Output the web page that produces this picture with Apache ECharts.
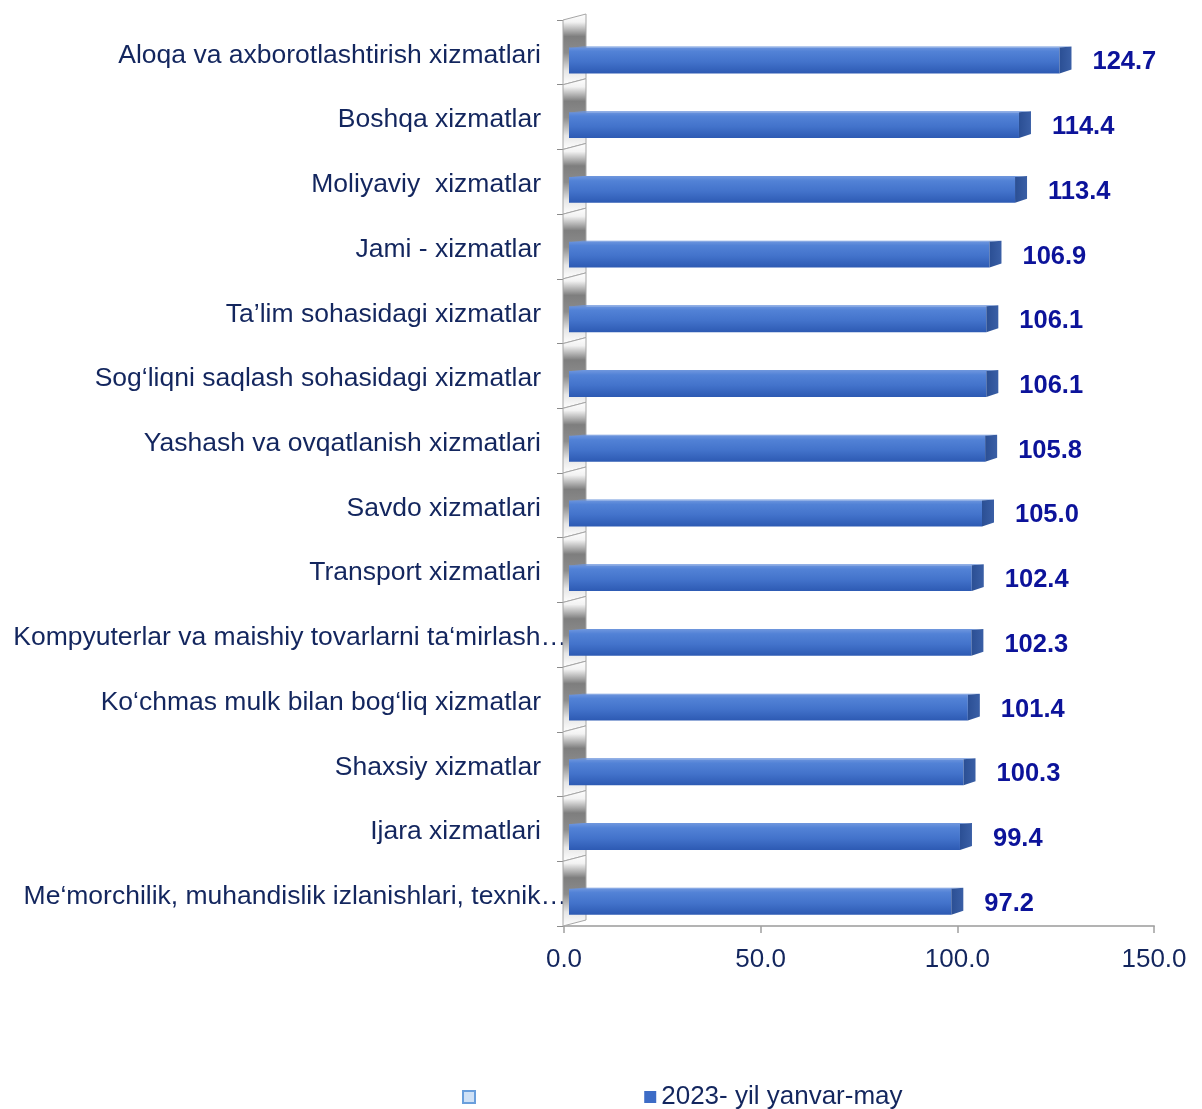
<!DOCTYPE html>
<html><head><meta charset="utf-8">
<script src="https://cdn.jsdelivr.net/npm/echarts@6/dist/echarts.min.js"></script>
<style>html,body{margin:0;padding:0;background:#fff}#c{width:1202px;height:1109px}</style>
</head><body><div id="c"></div>
<script>
const categories = [
  "Aloqa va axborotlashtirish xizmatlari",
  "Boshqa xizmatlar",
  "Moliyaviy  xizmatlar",
  "Jami - xizmatlar",
  "Ta’lim sohasidagi xizmatlar",
  "Sog‘liqni saqlash sohasidagi xizmatlar",
  "Yashash va ovqatlanish xizmatlari",
  "Savdo xizmatlari",
  "Transport xizmatlari",
  "Kompyuterlar va maishiy tovarlarni ta‘mirlash xizmatlari",
  "Ko‘chmas mulk bilan bog‘liq xizmatlar",
  "Shaxsiy xizmatlar",
  "Ijara xizmatlari",
  "Me‘morchilik, muhandislik izlanishlari, texnik sinov va tahlil sohasidagi xizmatlar"
];
const values = [124.7, 114.4, 113.4, 106.9, 106.1, 106.1, 105.8, 105.0, 102.4, 102.3, 101.4, 100.3, 99.4, 97.2];
const seriesName = "2023- yil yanvar-may";
const emptySeriesName = " ";
const axisMin = 0, axisMax = 150, axisStep = 50;

const FONT = "'Liberation Sans', Arial, sans-serif";
const FS = 26.5;
const LABEL_FONT = FS + 'px ' + FONT;
const NAVY = '#13265e';
const chart = echarts.init(document.getElementById('c'), null, {renderer: 'canvas'});
const data = values.map((v, i) => [v, i]);

function wallItem(params, api) {
  const o = api.coord([0, api.value(1)]);
  const band = api.size([0, 1])[1];
  const yt = o[1] - band / 2, yb = o[1] + band / 2;
  const x0 = o[0] - 1, w = 23, sl = 6;
  return {
    type: 'polygon',
    shape: {points: [[x0, yt], [x0 + w, yt - sl], [x0 + w, yb - sl], [x0, yb]]},
    style: {
      fill: new echarts.graphic.LinearGradient(0, 0, 0, 1, [
        {offset: 0, color: '#ffffff'},
        {offset: 0.12, color: '#f2f2f2'},
        {offset: 0.32, color: '#7e7e7e'},
        {offset: 0.55, color: '#8c8c8c'},
        {offset: 0.8, color: '#e6e6e6'},
        {offset: 1, color: '#ffffff'}
      ]),
      stroke: '#a6a6a6', lineWidth: 1
    }
  };
}

function barItem(params, api) {
  const v = api.value(0), cat = api.value(1);
  const e = api.coord([v, cat]);
  const o = api.coord([0, cat]);
  const band = api.size([0, 1])[1];
  const cy = e[1] + band * 0.125;
  const h = band * 0.4;
  const y0 = cy - h / 2, y1 = cy + h / 2;
  const xs = o[0] + 5, xe = e[0] + 5;
  const dw = 12, dh = 4;
  return {
    type: 'group',
    children: [
      {type: 'polygon', shape: {points: [[xs + 2, y0], [xe, y0], [xe + dw, y0 - 1], [xs + 2 + dw, y0 - 1]]},
       style: {fill: '#6d95dc'}},
      {type: 'rect', shape: {x: xs, y: y0, width: xe - xs, height: h},
       style: {fill: new echarts.graphic.LinearGradient(0, 0, 0, 1, [
         {offset: 0, color: '#6a93dd'},
         {offset: 0.15, color: '#5282d6'},
         {offset: 0.55, color: '#4373cb'},
         {offset: 1, color: '#2d5ab3'}
       ])}},
      {type: 'polygon', shape: {points: [[xe, y0], [xe + dw, y0 - 1], [xe + dw, y1 - dh], [xe, y1]]},
       style: {fill: new echarts.graphic.LinearGradient(0, 0, 1, 0, [
         {offset: 0, color: '#2b4f94'},
         {offset: 1, color: '#3a5fa6'}
       ])}},
      {type: 'text', x: xe + 33, y: cy + 2,
       style: {text: v.toFixed(1), fill: '#0c139a', font: 'bold 25.5px ' + FONT,
               textAlign: 'left', textVerticalAlign: 'middle'}}
    ]
  };
}

const measureCtx = document.createElement('canvas').getContext('2d');
measureCtx.font = LABEL_FONT;
function catLabel(label) {
  const maxW = 560;
  if (measureCtx.measureText(label).width <= maxW) return '{n|' + label + '}';
  let t = label;
  while (t.length > 1 && measureCtx.measureText(t + '…').width > maxW) t = t.slice(0, -1);
  return '{l|' + t.trimEnd() + '…}';
}

chart.setOption({
  animation: false,
  backgroundColor: '#ffffff',
  grid: {left: 564, right: 48, top: 20, bottom: 183, containLabel: false},
  xAxis: {
    type: 'value', min: axisMin, max: axisMax, interval: axisStep,
    axisLine: {show: true, lineStyle: {color: '#b3b3b3', width: 2}},
    axisTick: {show: true, length: 7, lineStyle: {color: '#a0a0a0', width: 1.5}},
    splitLine: {show: false},
    axisLabel: {formatter: v => v.toFixed(1), color: NAVY, fontSize: 26, fontFamily: FONT, margin: 21}
  },
  yAxis: {
    type: 'category', data: categories, inverse: true,
    axisLine: {show: true, lineStyle: {color: '#a6a6a6', width: 1}},
    axisTick: {show: true, length: 7, lineStyle: {color: '#8c8c8c'}},
    axisLabel: {
      color: NAVY, fontSize: FS, fontFamily: FONT, margin: -3,
      formatter: catLabel,
      rich: {
        n: {color: NAVY, fontSize: FS, fontFamily: FONT, padding: [6, 26, 0, 0]},
        l: {color: NAVY, fontSize: FS, fontFamily: FONT, padding: [6, 0, 0, 0]}
      }
    }
  },
  legend: {
    left: 457, top: 1079, itemWidth: 12, itemHeight: 12, itemGap: 157,
    textStyle: {color: NAVY, fontSize: 26, fontFamily: FONT},
    data: [
      {name: emptySeriesName, icon: 'rect', itemStyle: {color: '#cfe1f6', borderColor: '#6a9fdc', borderWidth: 2}},
      {name: seriesName, icon: 'rect', itemStyle: {color: '#3d6cc6'}}
    ]
  },
  series: [
    {name: emptySeriesName, type: 'bar', data: []},
    {name: 'wall', type: 'custom', coordinateSystem: 'cartesian2d', renderItem: wallItem,
     data: data, encode: {x: 0, y: 1}, z: 1, silent: true},
    {name: seriesName, type: 'custom', coordinateSystem: 'cartesian2d', renderItem: barItem,
     data: data, encode: {x: 0, y: 1}, z: 3, clip: false}
  ]
});
</script></body></html>
